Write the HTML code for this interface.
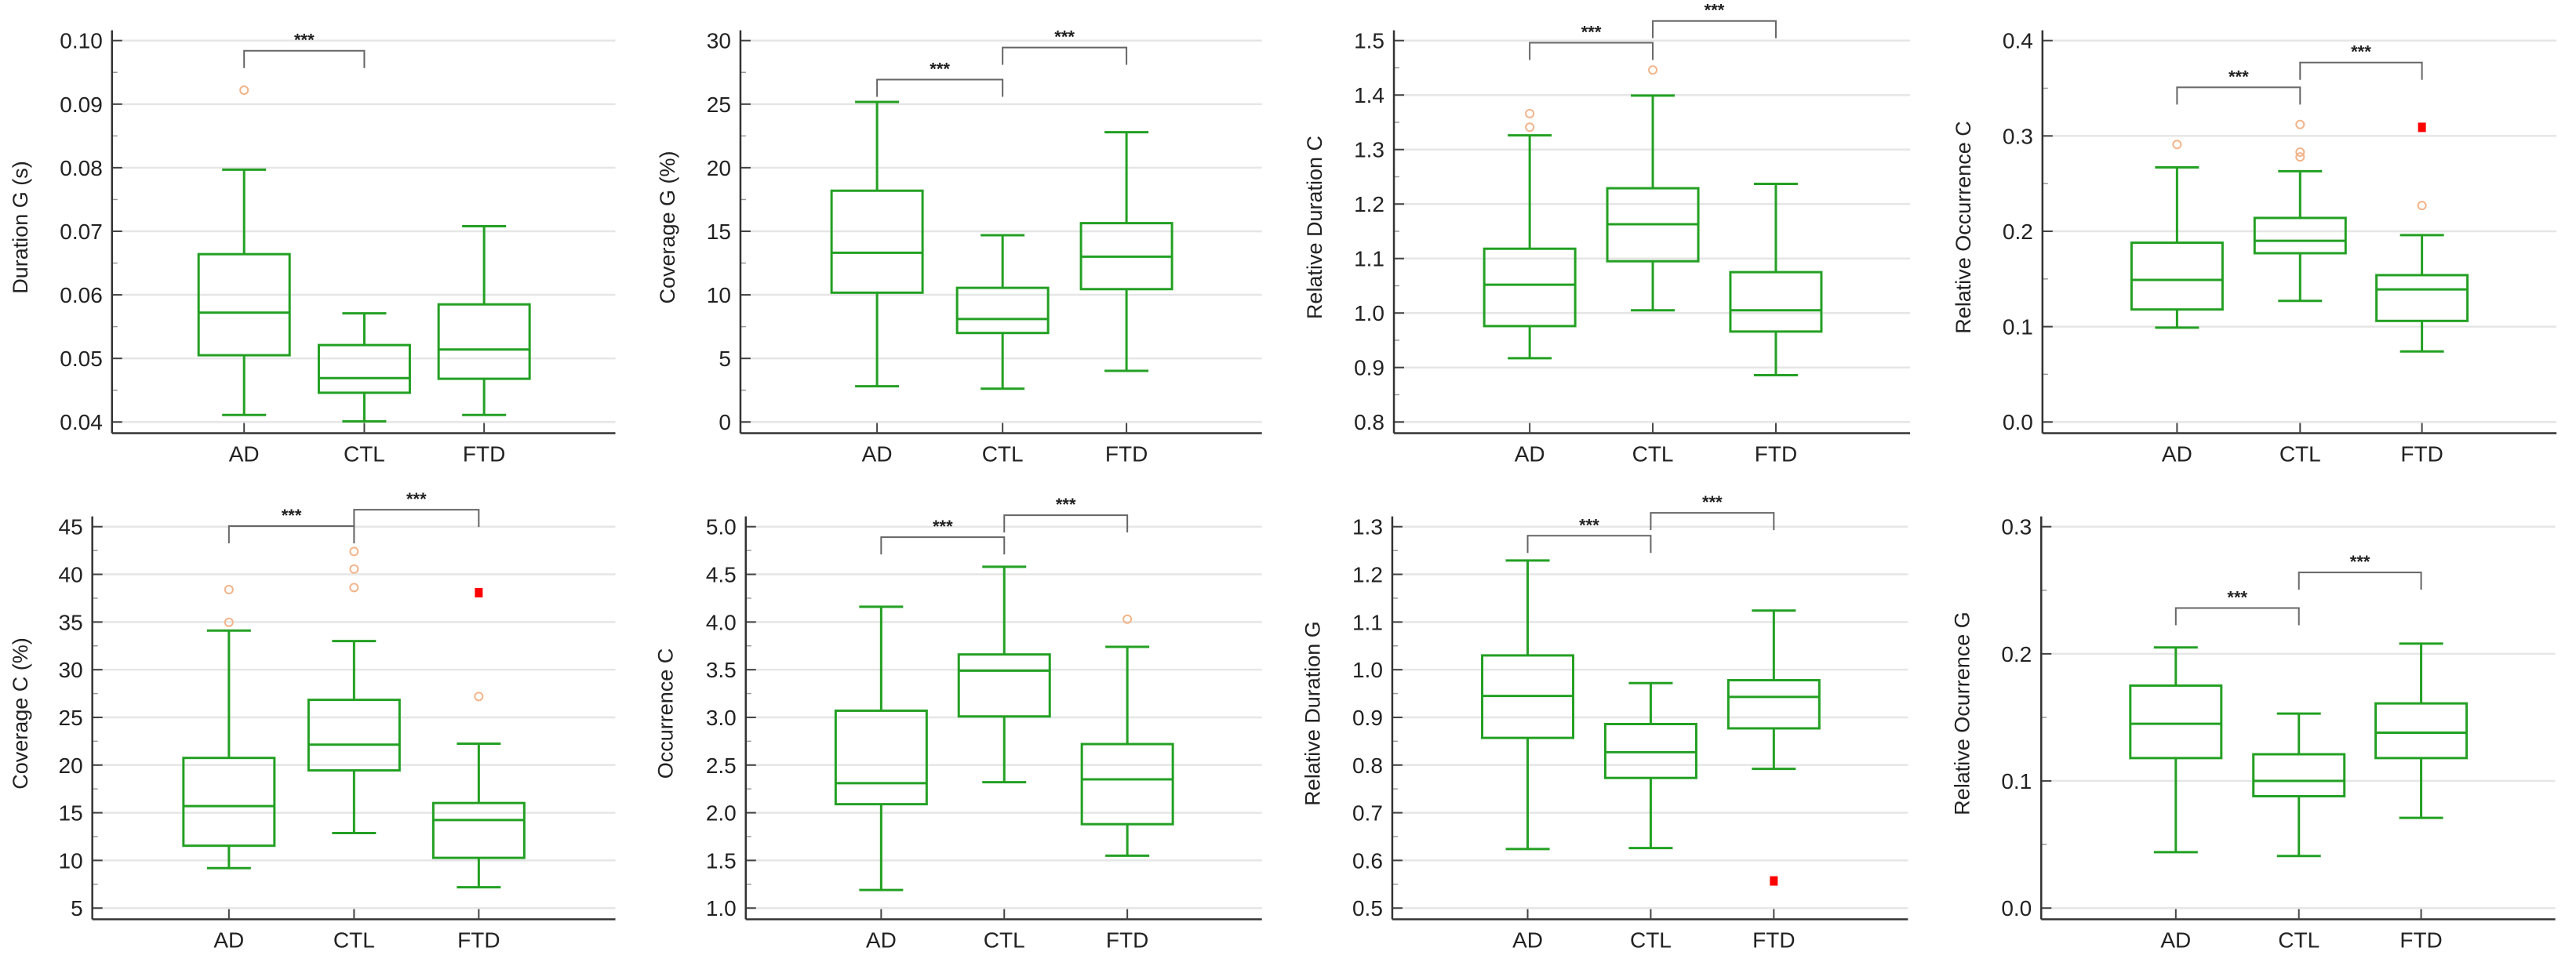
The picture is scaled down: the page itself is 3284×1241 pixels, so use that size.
<!DOCTYPE html>
<html><head><meta charset="utf-8"><style>
html,body{margin:0;padding:0;background:#fff;}
svg{display:block;}
text{font-family:"Liberation Sans",Arial,sans-serif;}
</style></head>
<body>
<svg id="fig" width="3284" height="1241" viewBox="0 0 3284 1241" xmlns="http://www.w3.org/2000/svg"></svg>
<script>
// ---- data ----
const categories = ["AD", "CTL", "FTD"];
const yTitles = ["Duration G (s)", "Coverage G (%)", "Relative Duration C", "Relative Occurrence C",
                 "Coverage C (%)", "Occurrence C", "Relative Duration G", "Relative Ocurrence G"];
const yMin = [0.04, 0, 0.8, 0.0, 5, 1.0, 0.5, 0.0];
const yMax = [0.10, 30, 1.5, 0.4, 45, 5.0, 1.3, 0.3];
const yStep = [0.01, 5, 0.1, 0.1, 5, 0.5, 0.1, 0.1];
const tickDecimals = [2, 0, 1, 1, 0, 1, 1, 1];
const whiskerLow = [[0.0411,0.0401,0.0411],[2.81,2.62,4.02],[0.917,1.005,0.886],[0.099,0.127,0.074],
                    [9.19,12.87,7.19],[1.19,2.32,1.55],[0.624,0.626,0.792],[0.044,0.041,0.071]];
const quartile1 = [[0.0505,0.0446,0.0468],[10.17,7.0,10.45],[0.976,1.095,0.966],[0.118,0.177,0.106],
                   [11.54,19.44,10.27],[2.09,3.01,1.88],[0.857,0.773,0.877],[0.118,0.088,0.118]];
const medians = [[0.0572,0.0469,0.0514],[13.31,8.1,13.0],[1.052,1.163,1.005],[0.149,0.190,0.139],
                 [15.70,22.14,14.24],[2.31,3.49,2.35],[0.945,0.827,0.943],[0.145,0.100,0.138]];
const quartile3 = [[0.0664,0.0521,0.0585],[18.19,10.55,15.64],[1.118,1.229,1.075],[0.188,0.214,0.154],
                   [20.75,26.84,16.02],[3.07,3.66,2.72],[1.030,0.886,0.978],[0.175,0.121,0.161]];
const whiskerHigh = [[0.0797,0.0571,0.0708],[25.17,14.69,22.79],[1.326,1.399,1.237],[0.267,0.263,0.196],
                     [34.1,33.0,22.24],[4.16,4.58,3.74],[1.229,0.972,1.124],[0.205,0.153,0.208]];
// outliers: [categoryIndex, value]
const outliers = [[[0,0.0922]],[],[[0,1.366],[0,1.341],[1,1.446]],[[0,0.291],[1,0.312],[1,0.278],[1,0.283],[2,0.227]],
                  [[0,38.4],[0,34.97],[1,42.4],[1,40.56],[1,38.62],[2,27.19]],[[2,4.03]],[],[]];
const extremes = [[],[],[],[[2,0.309]],[[2,38.08]],[],[[2,0.557]],[]];
// significance brackets: [fromCat, toCat, value]
const significance = [[[0,1,0.0984]],[[0,1,26.93],[1,2,29.45]],[[0,1,1.496],[1,2,1.536]],[[0,1,0.351],[1,2,0.377]],
                      [[0,1,45.06],[1,2,46.78]],[[0,1,4.89],[1,2,5.12]],[[0,1,1.281],[1,2,1.329]],[[0,1,0.236],[1,2,0.264]]];

// ---- layout (pixels) ----
const SX = 1.912, SY = 2.59;
const panelOX = [0,820,1640,2460,0,820,1640,2460];
const panelOY = [0,0,0,0,620,620,620,620];
const axisXz = [273,237,262,275,225,250,258,272];
const rightXz = [1500,1508,1520,1528,1500,1508,1515,1525];
const catXz = [[595,888,1180],[570,876,1178],[593,893,1193],[603,903,1200],[558,863,1167],[580,880,1180],[588,888,1188],[600,900,1198]];
const titleXz = [55,65,75,88,55,60,70,85];
const GREEN = "#23a023";
const NS = "http://www.w3.org/2000/svg";
const svg = document.getElementById("fig");

function mk(tag, attrs, parent, txt){
  const e = document.createElementNS(NS, tag);
  for (const k in attrs) e.setAttribute(k, attrs[k]);
  if (txt !== undefined) e.textContent = txt;
  parent.appendChild(e);
  return e;
}

for (let p = 0; p < 8; p++) {
  const ox = panelOX[p], oy = panelOY[p];
  const g = mk("g", {}, svg);
  
  
  const ax = ox + axisXz[p]/SX, rx = ox + rightXz[p]/SX;
  const yTopPix = oy + 134/SY, yBotPix = oy + 1394/SY;
  const axisBottom = oy + 1431/SY, axisTop = oy + 100/SY;
  const y = v => yBotPix - (v - yMin[p]) / (yMax[p] - yMin[p]) * (yBotPix - yTopPix);
  const cx = i => ox + catXz[p][i]/SX;
  const halfW = 58, capW = 28;

  // gridlines + ticks
  const nT = Math.round((yMax[p]-yMin[p])/yStep[p]);
  for (let i = 0; i <= nT; i++) {
    const v = yMin[p] + i*yStep[p], yy = y(v);
    const gl = mk("line", {x1:ax, x2:rx, y1:yy, y2:yy, stroke:"#e6e6e6", "stroke-width":2.5}, g);
    
    
    mk("line", {x1:ax, x2:ax+13, y1:yy, y2:yy, stroke:"#444", "stroke-width":2}, g);
    const t = mk("text", {x:ax-12, y:yy+10, "text-anchor":"end", "font-size":28, fill:"#222"}, g, v.toFixed(tickDecimals[p]));
    
    
    if (i < nT) {
      const ym = y(v + yStep[p]/2);
      mk("line", {x1:ax, x2:ax+7, y1:ym, y2:ym, stroke:"#999", "stroke-width":1.5}, g);
    }
  }
  // axes
  const yaxis = mk("line", {x1:ax, x2:ax, y1:axisTop, y2:axisBottom, stroke:"#333", "stroke-width":2.5}, g);
  
  
  const xaxis = mk("line", {x1:ax, x2:rx, y1:axisBottom, y2:axisBottom, stroke:"#333", "stroke-width":2.5}, g);
  
  
  // y title
  const tx = ox + titleXz[p]/SX + 6, ty = oy + 290;
  const yt = mk("text", {x:tx, y:ty, "text-anchor":"middle", "font-size":27, fill:"#222",
    transform:"rotate(-90 "+tx+" "+ty+")"}, g, yTitles[p]);
  
  

  for (let c = 0; c < 3; c++) {
    const x = cx(c);
    mk("line", {x1:x, x2:x, y1:axisBottom, y2:axisBottom-13, stroke:"#444", "stroke-width":2}, g);
    const xl = mk("text", {x:x, y:axisBottom+36, "text-anchor":"middle", "font-size":28, fill:"#222"}, g, categories[c]);
    
    
    const bg = mk("g", {stroke:GREEN, "stroke-width":3, fill:"none"}, g);
    
    
    mk("line", {x1:x, x2:x, y1:y(whiskerLow[p][c]), y2:y(quartile1[p][c])}, bg);
    mk("line", {x1:x, x2:x, y1:y(quartile3[p][c]), y2:y(whiskerHigh[p][c])}, bg);
    mk("line", {x1:x-capW, x2:x+capW, y1:y(whiskerLow[p][c]), y2:y(whiskerLow[p][c])}, bg);
    mk("line", {x1:x-capW, x2:x+capW, y1:y(whiskerHigh[p][c]), y2:y(whiskerHigh[p][c])}, bg);
    mk("rect", {x:x-halfW, y:y(quartile3[p][c]), width:2*halfW, height:y(quartile1[p][c])-y(quartile3[p][c])}, bg);
    mk("line", {x1:x-halfW, x2:x+halfW, y1:y(medians[p][c]), y2:y(medians[p][c])}, bg);
  }
  outliers[p].forEach(o => {
    const e = mk("circle", {cx:cx(o[0]), cy:y(o[1]), r:5, fill:"none", stroke:"#f2b48a", "stroke-width":2}, g);
    
    
  });
  extremes[p].forEach(o => {
    const e = mk("rect", {x:cx(o[0])-5, y:y(o[1])-6, width:10, height:12, fill:"#ff0000"}, g);
    
    
  });
  significance[p].forEach(s => {
    const yb = y(s[2]), x1 = cx(s[0]), x2 = cx(s[1]);
    const br = mk("path", {d:"M"+x1+","+(yb+22)+" V"+yb+" H"+x2+" V"+(yb+22), fill:"none", stroke:"#666", "stroke-width":2}, g);
    
    
    const st = mk("text", {x:(x1+x2)/2, y:yb-6, "text-anchor":"middle", "font-size":22, "font-weight":"bold", fill:"#222"}, g, "***");
    
    
  });
}
</script>
</body></html>
